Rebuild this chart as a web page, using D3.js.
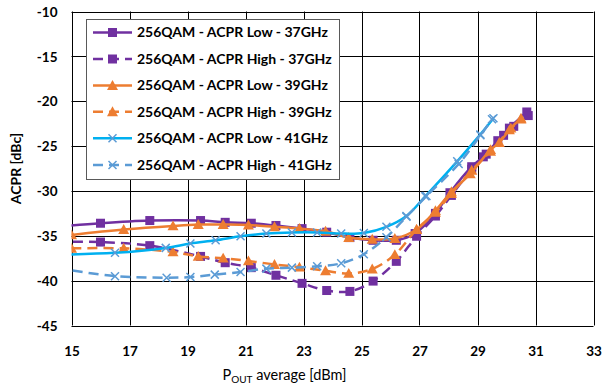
<!DOCTYPE html>
<html>
<head>
<meta charset="utf-8">
<script src="https://cdn.jsdelivr.net/npm/d3@7/dist/d3.min.js"></script>
<style>
  html, body { margin: 0; padding: 0; background: #fff; }
  svg { display: block; font-family: Lato, "Open Sans", sans-serif; }
</style>
</head>
<body>
<svg id="chart" width="611" height="387"></svg>
<script>
// ---- data ----
const xTicks = [15, 17, 19, 21, 23, 25, 27, 29, 31, 33];
const yTicks = [-45, -40, -35, -30, -25, -20, -15, -10];

const seriesNames = [
  "256QAM - ACPR Low - 37GHz",
  "256QAM - ACPR High - 37GHz",
  "256QAM - ACPR Low - 39GHz",
  "256QAM - ACPR High - 39GHz",
  "256QAM - ACPR Low - 41GHz",
  "256QAM - ACPR High - 41GHz"
];

const low37X  = [14.5, 16.0, 17.7, 19.45, 20.3, 21.2, 22.05, 22.95, 23.8, 24.6, 25.4, 26.2, 26.85, 27.55, 28.05, 28.8, 29.2, 29.7, 30.1, 30.7];
const low37Y  = [-34.0, -33.6, -33.3, -33.3, -33.5, -33.6, -33.85, -34.2, -34.6, -35.2, -35.5, -35.5, -34.75, -32.5, -30.2, -27.3, -26.2, -24.4, -23.0, -21.2];

const high37X = [14.5, 16.0, 17.7, 19.45, 20.3, 21.2, 22.05, 22.95, 23.8, 24.6, 25.4, 26.2, 26.9, 27.55, 28.1, 28.8, 29.3, 29.9, 30.25, 30.75];
const high37Y = [-35.7, -35.7, -36.1, -37.3, -38.0, -38.55, -39.4, -40.3, -41.1, -41.2, -40.05, -37.85, -35.05, -32.8, -30.5, -27.6, -25.9, -23.8, -22.8, -21.6];

const low39X  = [15.0, 16.8, 18.5, 19.37, 20.23, 21.1, 22.0, 22.86, 23.76, 24.56, 25.37, 26.15, 26.9, 27.55, 28.1, 28.75, 29.45, 29.75, 30.15, 30.5];
const low39Y  = [-34.9, -34.3, -33.9, -33.75, -33.75, -33.8, -34.0, -34.2, -34.5, -35.2, -35.4, -35.3, -34.3, -32.2, -30.1, -28.1, -25.4, -24.6, -23.0, -21.9];

const high39X = [15.0, 16.8, 18.5, 19.37, 20.23, 21.1, 22.0, 22.86, 23.76, 24.56, 25.37, 26.15, 26.9, 27.55, 28.1, 28.8, 29.45, 30.1, 30.5];
const high39Y = [-36.4, -36.4, -36.8, -37.3, -37.5, -37.8, -38.2, -38.5, -38.9, -39.2, -38.7, -37.1, -34.3, -32.4, -30.3, -27.7, -25.6, -23.2, -22.0];

const low41X  = [14.5, 16.5, 18.25, 19.1, 19.97, 20.83, 21.72, 22.6, 23.47, 24.3, 25.08, 25.86, 26.55, 27.2, 28.3, 29.1, 29.55];
const low41Y  = [-37.1, -36.9, -36.35, -35.86, -35.5, -35.05, -34.75, -34.63, -34.63, -34.75, -34.68, -34.0, -32.8, -30.6, -26.7, -23.7, -21.9];

const high41X = [14.5, 16.5, 18.28, 19.1, 19.94, 20.83, 21.72, 22.6, 23.47, 24.3, 25.08, 25.86, 26.55, 27.24, 28.35, 29.1, 29.5];
const high41Y = [-38.6, -39.5, -39.67, -39.6, -39.33, -39.04, -38.66, -38.55, -38.4, -38.07, -37.06, -35.16, -32.87, -30.57, -27.0, -23.8, -22.0];

// ---- styles ----
const colors  = ["#7030A0", "#7030A0", "#ED7D31", "#ED7D31", "#00B0F0", "#5B9BD5"];
const markers = ["square", "square", "triangle", "triangle", "cross", "cross"];
const dashed  = [false, true, false, true, false, true];
const markerColors = ["#7030A0", "#7030A0", "#ED7D31", "#ED7D31", "#5B9BD5", "#5B9BD5"];

const xs = [low37X, high37X, low39X, high39X, low41X, high41X];
const ys = [low37Y, high37Y, low39Y, high39Y, low41Y, high41Y];
const series = seriesNames.map((name, i) => ({
  name, color: colors[i], marker: markers[i], dashed: dashed[i], mcolor: markerColors[i],
  pts: xs[i].map((x, j) => ({ x, y: ys[i][j] }))
}));

// ---- layout ----
const svg = d3.select("#chart");
const L = 71.5, R = 593.5, T = 11.5, B = 325.5;
const x = d3.scaleLinear().domain([15, 33]).range([L, R]);
const y = d3.scaleLinear().domain([-45, -10]).range([B, T]);

svg.append("defs").append("clipPath").attr("id", "plotclip")
  .append("rect").attr("x", L).attr("y", T - 10).attr("width", R - L).attr("height", B - T + 10);

// grid
const grid = svg.append("g");
grid.selectAll("line.v").data(xTicks).join("line")
  .attr("x1", d => Math.round(x(d)) + 0.5).attr("x2", d => Math.round(x(d)) + 0.5)
  .attr("y1", T).attr("y2", B).attr("stroke", "#000").attr("stroke-width", 1);
grid.selectAll("line.h").data(yTicks).join("line")
  .attr("y1", d => Math.round(y(d)) + 0.5).attr("y2", d => Math.round(y(d)) + 0.5)
  .attr("x1", L).attr("x2", R).attr("stroke", "#000").attr("stroke-width", 1);

// axes (labels only)
const fmt = d => String(d);
const xAxis = d3.axisBottom(x).tickValues(xTicks).tickSize(0).tickPadding(0).tickFormat(fmt);
const gx = svg.append("g").attr("transform", `translate(0,${B + 21})`).call(xAxis);
gx.select(".domain").remove();
gx.selectAll("text").attr("font-size", 13.5).attr("font-weight", "bold").attr("fill", "#000")
  .attr("font-family", "Lato, sans-serif");

const yAxis = d3.axisLeft(y).tickValues(yTicks).tickSize(0).tickPadding(0).tickFormat(fmt);
const gy = svg.append("g").attr("transform", `translate(${L - 14},0)`).call(yAxis);
gy.select(".domain").remove();
gy.selectAll("text").attr("font-size", 13.5).attr("font-weight", "bold").attr("fill", "#000")
  .attr("font-family", "Lato, sans-serif").attr("dy", "0.35em");

// titles
svg.append("text").attr("transform", `translate(21,${(T + B) / 2}) rotate(-90)`)
  .attr("text-anchor", "middle").attr("font-size", 14).attr("font-weight", "bold").text("ACPR [dBc]");
const xt = svg.append("text").attr("x", (L + R) / 2 - 48).attr("y", 380).attr("text-anchor", "middle")
  .attr("font-size", 14.5);
xt.append("tspan").text("P");
xt.append("tspan").attr("font-size", 10).attr("dy", 3).text("OUT");
xt.append("tspan").attr("dy", -3).text(" average [dBm]");

// lines
const line = d3.line().x(d => x(d.x)).y(d => y(d.y)).curve(d3.curveCatmullRom.alpha(0.5));
const plot = svg.append("g").attr("clip-path", "url(#plotclip)");

function drawMarker(g, type, cx, cy, col) {
  if (type === "square") {
    g.append("rect").attr("x", cx - 4.5).attr("y", cy - 4.5).attr("width", 9).attr("height", 9).attr("fill", col);
  } else if (type === "triangle") {
    const s = 5.5;
    g.append("path").attr("d", `M${cx},${cy - s}L${cx + s},${cy + s * 0.8}L${cx - s},${cy + s * 0.8}Z`).attr("fill", col);
  } else {
    const s = 4;
    g.append("path").attr("d", `M${cx - s},${cy - s}L${cx + s},${cy + s}M${cx - s},${cy + s}L${cx + s},${cy - s}`)
      .attr("stroke", col).attr("stroke-width", 1.5).attr("fill", "none");
  }
}

series.forEach(s => {
  const g = plot.append("g");
  g.append("path").datum(s.pts).attr("d", line).attr("fill", "none")
    .attr("stroke", s.color).attr("stroke-width", 2.5)
    .attr("stroke-dasharray", s.dashed ? "10,6" : null);
  s.pts.filter(p => p.x >= 15).forEach(p => drawMarker(g, s.marker, x(p.x), y(p.y), s.mcolor));
});

// legend
const lg = svg.append("g");
lg.append("rect").attr("x", 86.5).attr("y", 19.5).attr("width", 253).attr("height", 160)
  .attr("fill", "#fff").attr("stroke", "#595959").attr("stroke-width", 1);
const legY = [32.5, 59, 85.5, 111.8, 138.3, 165];
series.forEach((s, i) => {
  const yy = legY[i];
  lg.append("line").attr("x1", 93).attr("x2", 132).attr("y1", yy).attr("y2", yy)
    .attr("stroke", s.color).attr("stroke-width", 2.5).attr("stroke-dasharray", s.dashed ? "10,6" : null);
  drawMarker(lg, s.marker, 112.5, yy, s.mcolor);
  lg.append("text").attr("x", 137).attr("y", yy).attr("dy", "0.35em")
    .attr("font-size", 14).attr("font-weight", "bold").attr("fill", "#000").text(s.name);
});
</script>
</body>
</html>
